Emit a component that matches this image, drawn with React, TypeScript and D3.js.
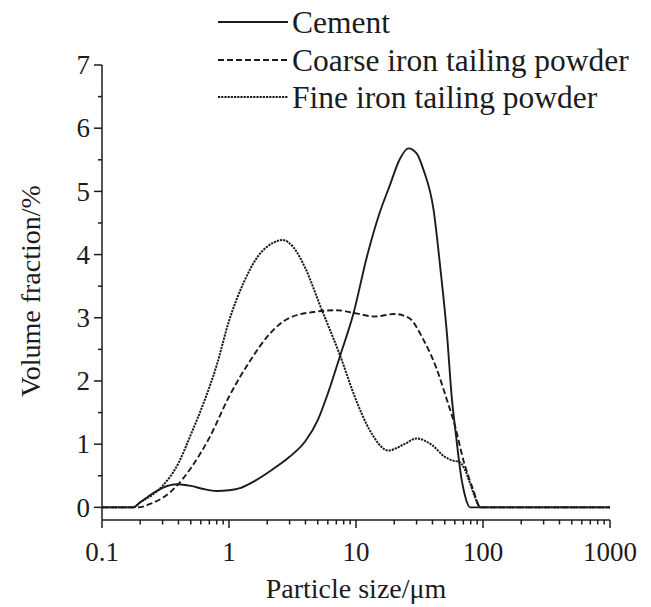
import React from "react";
import * as d3 from "d3";

type Pt = [number, number];

const cement: Pt[] = [
  [0.1, 0], [0.176, 0], [0.2, 0.08], [0.25, 0.22], [0.3, 0.31], [0.39, 0.365], [0.5, 0.34],
  [0.63, 0.29], [0.8, 0.26], [1.0, 0.27], [1.2, 0.3], [1.6, 0.42], [2.2, 0.6], [3, 0.8],
  [4, 1.05], [5, 1.38], [6, 1.8], [7.5, 2.4], [9.5, 3.05], [12.2, 3.97], [15, 4.6],
  [18.5, 5.1], [22, 5.5], [25.8, 5.68], [30, 5.6], [34, 5.34], [40.8, 4.71], [46, 3.81],
  [52, 2.75], [57, 1.7], [60, 1.3], [68, 0.43], [72, 0.19], [79, 0], [1000, 0],
];

const coarse: Pt[] = [
  [0.1, 0], [0.19, 0], [0.25, 0.07], [0.3, 0.15], [0.4, 0.37], [0.5, 0.62], [0.7, 1.1],
  [1.0, 1.75], [1.5, 2.35], [2, 2.7], [3, 3.0], [5, 3.1], [7, 3.12], [10, 3.07], [14, 3.02],
  [20, 3.06], [26, 3.0], [34, 2.65], [43, 2.2], [52, 1.7], [60, 1.3], [70, 0.75], [84, 0.27],
  [95, 0], [1000, 0],
];

const fine: Pt[] = [
  [0.1, 0], [0.176, 0], [0.2, 0.08], [0.25, 0.2], [0.3, 0.34], [0.4, 0.7], [0.5, 1.15],
  [0.65, 1.72], [0.8, 2.25], [1.0, 2.95], [1.3, 3.55], [1.7, 3.98], [2.2, 4.18], [2.65, 4.23],
  [3.2, 4.12], [4, 3.78], [5.2, 3.2], [7.5, 2.4], [10, 1.7], [13, 1.2], [18, 0.9], [24, 1.0],
  [30, 1.09], [40, 0.98], [50, 0.8], [58, 0.74], [65, 0.72], [72, 0.6], [80, 0.35], [90, 0.08],
  [95, 0], [1000, 0],
];

const seriesNames = ["Cement", "Coarse iron tailing powder", "Fine iron tailing powder"];
const xMajor = [0.1, 1, 10, 100, 1000];
const xMajorLabels = ["0.1", "1", "10", "100", "1000"];
const yMajor = [0, 1, 2, 3, 4, 5, 6, 7];

const INK = "#1c1c1c";
const FONT = "'Liberation Serif', 'Times New Roman', Times, serif";

export default function App() {
  const x = d3.scaleLog().domain([0.1, 1000]).range([102, 610]);
  const y = d3.scaleLinear().domain([-0.2, 7]).range([520, 65]);
  const line = d3
    .line<Pt>()
    .x((d) => x(d[0]))
    .y((d) => y(d[1]))
    .curve(d3.curveMonotoneX);

  const xMinor: number[] = [];
  [0.1, 1, 10, 100].forEach((dec) => {
    for (let k = 2; k <= 9; k++) xMinor.push(dec * k);
  });
  const yMinor = d3.range(0.5, 7, 1);

  const styles = [
    { data: cement, dash: undefined as string | undefined, w: 1.9 },
    { data: coarse, dash: "6,3", w: 1.9 },
    { data: fine, dash: "2.2,1", w: 2 },
  ];

  const legendY = [22, 60, 97];
  const tf = { fontFamily: FONT };

  return (
    <svg
      width={651}
      height={607}
      style={{ position: "absolute", left: 0, top: 0, background: "#fff", fontFamily: FONT }}
    >
      <rect width={651} height={607} fill="#fff" />
      {/* axes */}
      <line x1={x(0.1)} x2={x(0.1)} y1={y(7)} y2={y(-0.2)} stroke={INK} strokeWidth={1.5} />
      <line x1={x(0.1)} x2={x(1000)} y1={y(-0.2)} y2={y(-0.2)} stroke={INK} strokeWidth={1.5} />
      {yMajor.map((v) => (
        <g key={"ym" + v}>
          <line x1={x(0.1) - 8} x2={x(0.1)} y1={y(v)} y2={y(v)} stroke={INK} strokeWidth={1.5} />
          <text x={x(0.1) - 12} y={y(v)} dy="0.34em" textAnchor="end" fontSize={27} fill={INK} style={tf}>
            {v}
          </text>
        </g>
      ))}
      {yMinor.map((v) => (
        <line key={"yn" + v} x1={x(0.1) - 4} x2={x(0.1)} y1={y(v)} y2={y(v)} stroke={INK} strokeWidth={1.5} />
      ))}
      {xMajor.map((v, i) => (
        <g key={"xm" + v}>
          <line x1={x(v)} x2={x(v)} y1={y(-0.2)} y2={y(-0.2) + 8} stroke={INK} strokeWidth={1.5} />
          <text x={x(v)} y={561} textAnchor="middle" fontSize={27} fill={INK} style={tf}>
            {xMajorLabels[i]}
          </text>
        </g>
      ))}
      {xMinor.map((v) => (
        <line key={"xn" + v} x1={x(v)} x2={x(v)} y1={y(-0.2)} y2={y(-0.2) + 4.5} stroke={INK} strokeWidth={1.5} />
      ))}
      {/* axis titles */}
      <text x={356} y={598} textAnchor="middle" fontSize={28} fill={INK} style={tf}>
        Particle size/μm
      </text>
      <text
        transform={`translate(40, 291) rotate(-90)`}
        textAnchor="middle"
        fontSize={28}
        fill={INK}
        style={tf}
      >
        Volume fraction/%
      </text>
      {/* curves */}
      {styles.map((s, i) => (
        <path
          key={"c" + i}
          d={line(s.data) || ""}
          fill="none"
          stroke={INK}
          strokeWidth={s.w}
          strokeDasharray={s.dash}
        />
      ))}
      {/* legend */}
      {seriesNames.map((name, i) => (
        <g key={"lg" + i}>
          <line
            x1={218}
            x2={288}
            y1={legendY[i]}
            y2={legendY[i]}
            stroke={INK}
            strokeWidth={1.9}
            strokeDasharray={styles[i].dash}
          />
          <text x={292} y={legendY[i]} dy="0.34em" fontSize={31.5} fill={INK} style={tf}>
            {name}
          </text>
        </g>
      ))}
    </svg>
  );
}
